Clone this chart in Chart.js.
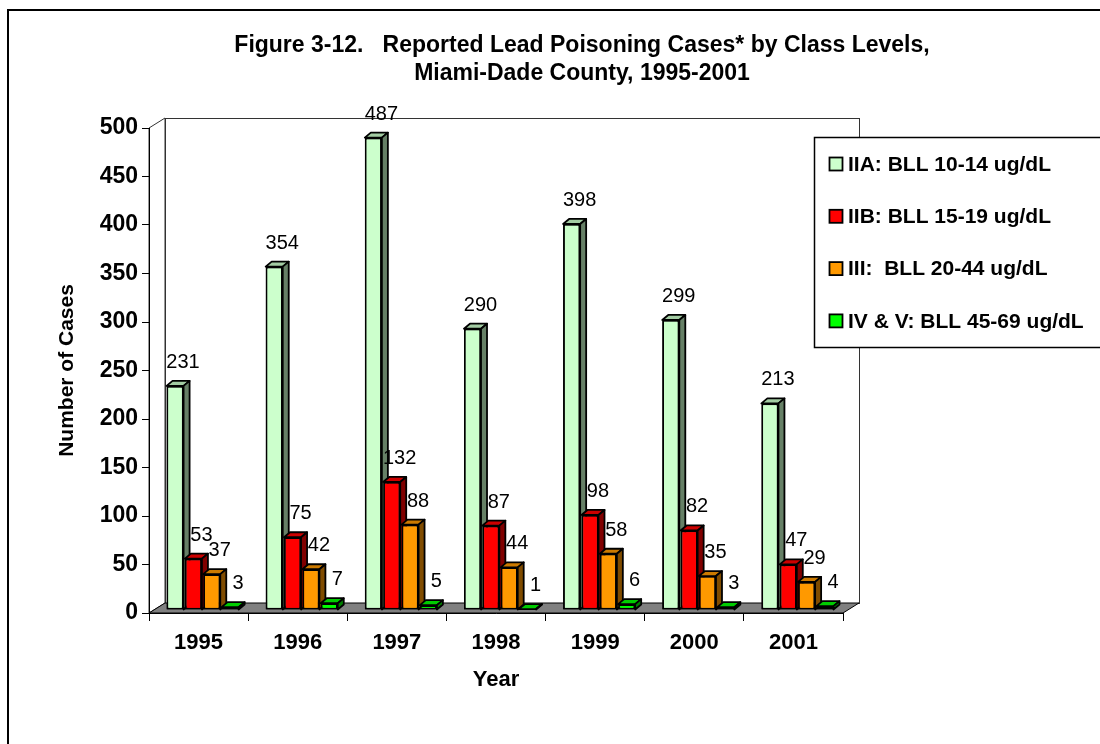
<!DOCTYPE html>
<html>
<head>
<meta charset="utf-8">
<script src="https://cdn.jsdelivr.net/npm/chart.js@4"></script>
<style>
  html, body { margin: 0; padding: 0; background: #fff; }
  #wrap { width: 1100px; height: 744px; }
</style>
</head>
<body>
<div id="wrap"><canvas id="lead-chart" width="1100" height="744"></canvas></div>
<script>
var years = ['1995', '1996', '1997', '1998', '1999', '2000', '2001'];
var classIIA = [231, 354, 487, 290, 398, 299, 213];
var classIIB = [53, 75, 132, 87, 98, 82, 47];
var classIII = [37, 42, 88, 44, 58, 35, 29];
var classIVV = [3, 7, 5, 1, 6, 3, 4];
var seriesNames = ['IIA: BLL 10-14 ug/dL', 'IIB: BLL 15-19 ug/dL', 'III:  BLL 20-44 ug/dL', 'IV & V: BLL 45-69 ug/dL'];
var titleLines = ['Figure 3-12.   Reported Lead Poisoning Cases* by Class Levels,', 'Miami-Dade County, 1995-2001'];

// front / top / side colours for the fake 3d bars
var frontColors = ['#ccffcc', '#ff0000', '#ff9900', '#00ff00'];
var topColors = ['#a3cca3', '#cc0000', '#cc7a00', '#00cc00'];
var sideColors = ['#668066', '#800000', '#804c00', '#008000'];

var wallDx = 16, wallDy = 10;   // depth of the back wall
var barDx = 6, barDy = 5;       // depth of each bar
var barShiftX = 4, barShiftY = 3;
var fontFam = 'Arial, "Liberation Sans", sans-serif';

var threeD = {
    id: 'threeD',
    beforeDraw: function (chart) {
        var ctx = chart.ctx;
        var area = chart.chartArea;
        var yTop = chart.scales.y.getPixelForValue(500);
        var L = area.left, R = area.right, B = area.bottom;
        ctx.save();
        ctx.fillStyle = '#fff';
        ctx.fillRect(0, 0, chart.width, chart.height);
        // page frame
        ctx.strokeStyle = '#000';
        ctx.lineWidth = 2;
        ctx.beginPath();
        ctx.moveTo(8, chart.height + 2);
        ctx.lineTo(8, 10);
        ctx.lineTo(chart.width + 2, 10);
        ctx.stroke();
        // back wall
        ctx.lineWidth = 1;
        ctx.strokeStyle = '#333';
        ctx.strokeRect(L + wallDx + 0.5, yTop - wallDy + 0.5, R - L, B - yTop);
        // left wall
        ctx.beginPath();
        ctx.moveTo(L, yTop);
        ctx.lineTo(L + wallDx, yTop - wallDy);
        ctx.lineTo(L + wallDx, B - wallDy);
        ctx.lineTo(L, B);
        ctx.closePath();
        ctx.fillStyle = '#fff';
        ctx.fill();
        ctx.stroke();
        // floor
        ctx.beginPath();
        ctx.moveTo(L, B);
        ctx.lineTo(L + wallDx, B - wallDy);
        ctx.lineTo(R + wallDx, B - wallDy);
        ctx.lineTo(R, B);
        ctx.closePath();
        ctx.fillStyle = '#808080';
        ctx.fill();
        ctx.strokeStyle = '#000';
        ctx.stroke();
        ctx.restore();
    },
    beforeDatasetsDraw: function (chart) {
        chart.ctx.save();
        chart.ctx.translate(barShiftX, -barShiftY);
    },
    afterDatasetsDraw: function (chart) {
        var ctx = chart.ctx;
        chart.data.datasets.forEach(function (ds, di) {
            var meta = chart.getDatasetMeta(di);
            meta.data.forEach(function (bar) {
                var l = bar.x - bar.width / 2, r = bar.x + bar.width / 2;
                bar.draw(ctx);
                ctx.lineWidth = 1.8;
                ctx.strokeStyle = '#000';
                ctx.lineJoin = 'round';
                // top face
                ctx.beginPath();
                ctx.moveTo(l, bar.y);
                ctx.lineTo(l + barDx, bar.y - barDy);
                ctx.lineTo(r + barDx, bar.y - barDy);
                ctx.lineTo(r, bar.y);
                ctx.closePath();
                ctx.fillStyle = topColors[di];
                ctx.fill();
                ctx.stroke();
                // side face
                ctx.beginPath();
                ctx.moveTo(r, bar.y);
                ctx.lineTo(r + barDx, bar.y - barDy);
                ctx.lineTo(r + barDx, bar.base - barDy);
                ctx.lineTo(r, bar.base);
                ctx.closePath();
                ctx.fillStyle = sideColors[di];
                ctx.fill();
                ctx.stroke();
            });
        });
        // value labels
        ctx.fillStyle = '#000';
        ctx.font = '20px ' + fontFam;
        ctx.textAlign = 'center';
        ctx.textBaseline = 'alphabetic';
        chart.data.datasets.forEach(function (ds, di) {
            var meta = chart.getDatasetMeta(di);
            meta.data.forEach(function (bar, i) {
                ctx.fillText(String(ds.data[i]), bar.x + 8, bar.y - barDy - 13);
            });
        });
        ctx.restore();
    },
    afterDraw: function (chart) {
        var ctx = chart.ctx;
        ctx.save();
        // title
        ctx.fillStyle = '#000';
        ctx.textAlign = 'center';
        ctx.textBaseline = 'middle';
        ctx.font = 'bold 23px ' + fontFam;
        titleLines.forEach(function (t, i) {
            ctx.fillText(t, 582, 46 + i * 28);
        });
        // legend box
        ctx.fillStyle = '#fff';
        ctx.fillRect(814, 137, 300, 210);
        ctx.strokeStyle = '#000';
        ctx.lineWidth = 1.5;
        ctx.strokeRect(814.5, 137.5, 300, 210);
        ctx.font = 'bold 21px ' + fontFam;
        ctx.textAlign = 'left';
        chart.data.datasets.forEach(function (ds, di) {
            var cy = 164 + di * 52.3;
            ctx.fillStyle = ds.backgroundColor;
            ctx.fillRect(829.5, cy - 6.5, 13, 13);
            ctx.lineWidth = 1.8;
            ctx.strokeRect(829.5, cy - 6.5, 13, 13);
            ctx.fillStyle = '#000';
            ctx.fillText(ds.label, 848, cy + 1);
        });
        ctx.restore();
    }
};

var datasets = [classIIA, classIIB, classIII, classIVV].map(function (vals, i) {
    return {
        label: seriesNames[i],
        data: vals,
        backgroundColor: frontColors[i],
        borderColor: '#000',
        borderWidth: 1.8,
        borderSkipped: false,
        categoryPercentage: 0.74,
        barPercentage: 0.93,
        clip: false
    };
});

var leadcontext = document.getElementById('lead-chart').getContext('2d');
var leadchart = new Chart(leadcontext, {
    type: 'bar',
    data: {
        labels: years,
        datasets: datasets
    },
    options: {
        responsive: false,
        animation: false,
        devicePixelRatio: 1,
        layout: {
            padding: { top: 128, left: 0, right: 257, bottom: 51 }
        },
        plugins: {
            legend: { display: false },
            title: { display: false },
            tooltip: { enabled: false }
        },
        scales: {
            x: {
                afterFit: function (s) { s.height = 80; },
                grid: { offset: true, drawOnChartArea: false, tickLength: 8, color: '#000', lineWidth: 1 },
                border: { display: true, color: '#000', width: 1 },
                ticks: {
                    padding: 9,
                    color: '#000',
                    font: { family: fontFam, size: 22, weight: 'bold' }
                },
                title: {
                    display: true,
                    text: 'Year',
                    color: '#000',
                    padding: { top: 1, bottom: 0 },
                    font: { family: fontFam, size: 22, weight: 'bold' }
                }
            },
            y: {
                min: 0,
                max: 500,
                afterFit: function (s) { s.width = 149; },
                grid: { drawOnChartArea: false, tickLength: 7, color: '#000', lineWidth: 1 },
                border: { display: true, color: '#000', width: 1 },
                ticks: {
                    stepSize: 50,
                    padding: 4,
                    color: '#000',
                    font: { family: fontFam, size: 23, weight: 'bold' }
                },
                title: {
                    display: true,
                    text: 'Number of Cases',
                    color: '#000',
                    padding: { top: 55, bottom: 0 },
                    font: { family: fontFam, size: 21, weight: 'bold' }
                }
            }
        }
    },
    plugins: [threeD]
});
</script>
</body>
</html>
